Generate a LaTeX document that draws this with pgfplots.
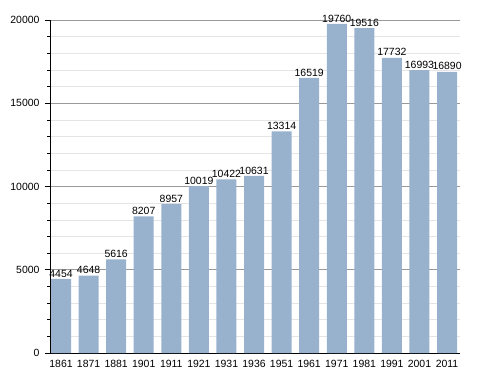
\documentclass[border=0pt]{standalone}
\usepackage{pgfplots}
\pgfplotsset{compat=1.18}
\usepackage{fontspec}
\setmainfont{Liberation Sans}
\definecolor{barblue}{RGB}{152,178,206}
\begin{document}
\begin{tikzpicture}
\begin{axis}[
  scale only axis,
  width=410bp, height=333bp,
  at={(0,0)}, anchor=south west,
  xmin=-0.4, xmax=14.47,
  ymin=0, ymax=20000,
  axis x line*=bottom,
  axis y line*=left,
  xtick={0,...,14},
  xticklabels={1861,1871,1881,1901,1911,1921,1931,1936,1951,1961,1971,1981,1991,2001,2011},
  major x tick style={draw=none},
  ytick={0,5000,10000,15000,20000},
  minor ytick={1000,2000,3000,4000,6000,7000,8000,9000,11000,12000,13000,14000,16000,17000,18000,19000},
  ymajorgrids, yminorgrids,
  major grid style={draw=black!40, line width=0.6pt},
  minor grid style={draw=black!10, line width=0.6pt},
  y tick style={black, line width=0.6pt},
  major tick length=5bp, minor tick length=3bp,
  tick align=outside,
  axis line style={black, line width=0.8pt},
  scaled y ticks=false,
  /pgf/number format/assume math mode=true,
  yticklabel={\pgfmathprintnumber[fixed,1000 sep={}]{\tick}},
  tick label style={font=\fontsize{10.5}{12}\selectfont},
  yticklabel style={xshift=-2bp},
  xticklabel style={yshift=1bp},
  ybar, bar width=20bp,
  nodes near coords,
  nodes near coords style={font=\fontsize{10.5}{12}\selectfont, inner sep=1.5bp, /pgf/number format/.cd, fixed, 1000 sep={}, assume math mode=true},
  clip=false,
]
\addplot[fill=barblue, draw=none] coordinates {
(0,4454) (1,4648) (2,5616) (3,8207) (4,8957) (5,10019) (6,10422) (7,10631)
(8,13314) (9,16519) (10,19760) (11,19516) (12,17732) (13,16993) (14,16890)};
\end{axis}
\pgfresetboundingbox
\path[use as bounding box] (-50bp,-20bp) rectangle (438bp,353bp);
\end{tikzpicture}
\end{document}
